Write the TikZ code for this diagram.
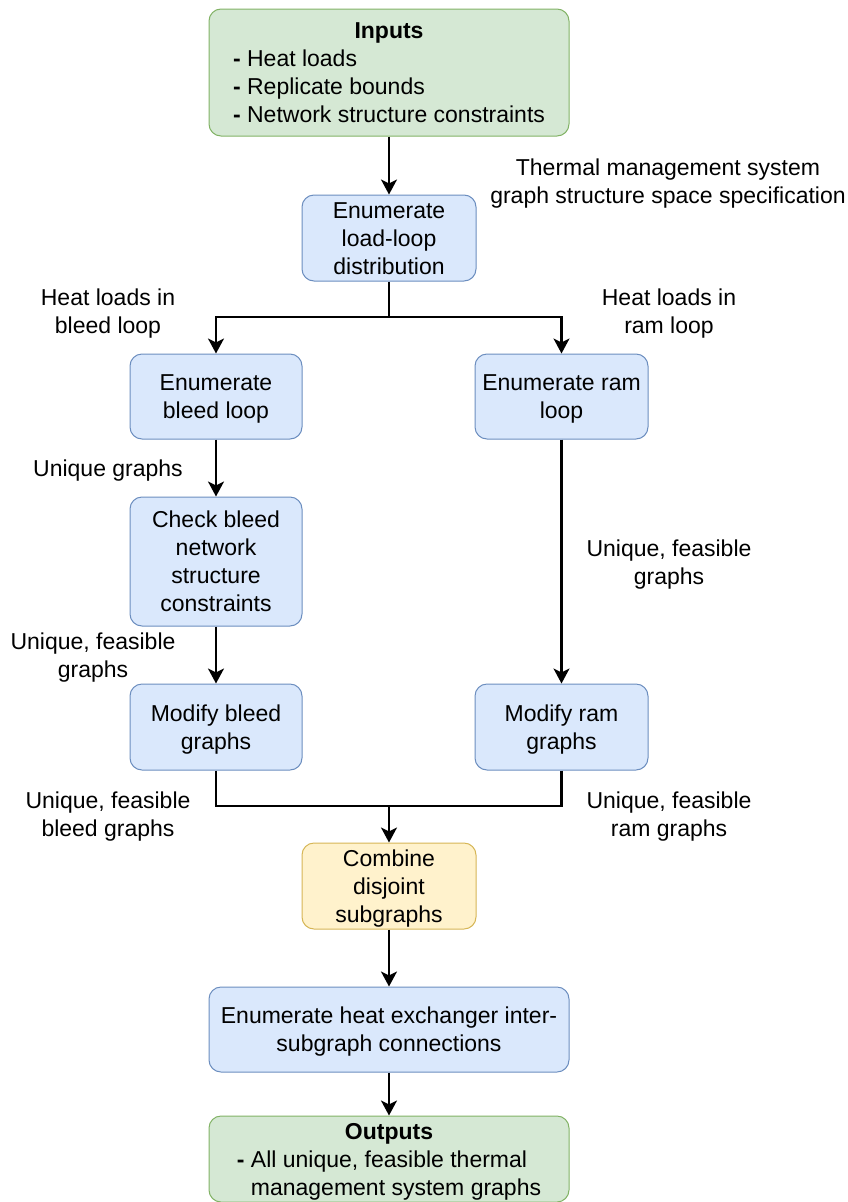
\documentclass[tikz,border=0pt]{standalone}
\usepackage{fontspec}
\setmainfont{Liberation Sans}
\usetikzlibrary{arrows.meta}
\definecolor{gfill}{HTML}{D5E8D4}\definecolor{gline}{HTML}{82B366}
\definecolor{bfill}{HTML}{DAE8FC}\definecolor{bline}{HTML}{6C8EBF}
\definecolor{yfill}{HTML}{FFF2CC}\definecolor{yline}{HTML}{D6B656}
% box text: centred (or left) lines, set slightly low inside the box
\newcommand{\boxtext}[1]{\raisebox{-2.5pt}[\height][\depth]{\begin{tabular}{@{}c@{}}#1\end{tabular}}}
\newcommand{\boxlist}[1]{\raisebox{-2.5pt}[\height][\depth]{\begin{tabular}{@{}l@{}}#1\end{tabular}}}
\begin{document}
\begin{tikzpicture}[x=1pt,y=-1pt,
  every node/.style={font=\fontsize{23}{28}\selectfont, inner sep=0pt, align=center},
  boxbase/.style={rounded corners=12pt, line width=1pt},
  greenbox/.style={boxbase, draw=gline, fill=gfill},
  bluebox/.style={boxbase, draw=bline, fill=bfill},
  yellowbox/.style={boxbase, draw=yline, fill=yfill},
  wire/.style={line width=2.3pt},
  arr/.style={wire, -{Stealth[length=15pt,width=16pt,inset=4pt]}}]
\useasboundingbox (0,0) rectangle (848,1202);

% process boxes
\node[greenbox, minimum width=360pt, minimum height=127pt] (in) at (389,72.5)
  {\boxlist{\multicolumn{1}{c}{\textbf{Inputs}}\\
   \textbf{-} Heat loads\\ \textbf{-} Replicate bounds\\ \textbf{-} Network structure constraints}};
\node[bluebox, minimum width=174pt, minimum height=86pt] (load) at (389,238)
  {\boxtext{Enumerate\\load-loop\\distribution}};
\node[bluebox, minimum width=172pt, minimum height=85pt] (bleed) at (216,396.5)
  {\boxtext{Enumerate\\bleed loop}};
\node[bluebox, minimum width=173pt, minimum height=85pt] (ram) at (561.5,396.5)
  {\boxtext{Enumerate ram\\loop}};
\node[bluebox, minimum width=172pt, minimum height=129pt] (check) at (216,561.5)
  {\boxtext{Check bleed\\network\\structure\\constraints}};
\node[bluebox, minimum width=172pt, minimum height=86pt] (modb) at (216,727)
  {\boxtext{Modify bleed\\graphs}};
\node[bluebox, minimum width=173pt, minimum height=86pt] (modr) at (561.5,727)
  {\boxtext{Modify ram\\graphs}};
\node[yellowbox, minimum width=174pt, minimum height=86pt] (comb) at (389,886)
  {\boxtext{Combine\\disjoint\\subgraphs}};
\node[bluebox, minimum width=360pt, minimum height=85pt] (hx) at (389,1029.5)
  {\boxtext{Enumerate heat exchanger inter-\\subgraph connections}};
\node[greenbox, minimum width=360pt, minimum height=86pt] (out) at (389,1159)
  {\boxlist{\multicolumn{1}{c}{\textbf{Outputs}}\\
   \textbf{-} All unique, feasible thermal\\ \phantom{\textbf{-} }management system graphs}};

% junction points
\coordinate (split) at (389,317);
\coordinate (merge) at (389,806);

% connectors
\draw[arr] (in.south) -- (load.north);
\draw[wire] (load.south) -- (split);
\draw[arr] (split) -| (bleed.north);
\draw[arr] (split) -| (ram.north);
\draw[arr] (bleed.south) -- (check.north);
\draw[arr] (check.south) -- (modb.north);
\draw[arr] (ram.south) -- (modr.north);
\draw[wire] (modb.south) |- (merge);
\draw[wire] (modr.south) |- (merge);
\draw[arr] (merge) -- (comb.north);
\draw[arr] (comb.south) -- (hx.north);
\draw[arr] (hx.south) -- (out.north);

% edge labels
\node (spec) at (668,183.5) {Thermal management system\\graph structure space specification};
\node (lblA) at (108,313.5) {Heat loads in\\bleed loop};
\node (lblB) at (669,313.5) {Heat loads in\\ram loop};
\node (lblC) at (108,470.5) {Unique graphs};
\node (lblD) at (93,657.5) {Unique, feasible\\graphs};
\node (lblE) at (669,564.5) {Unique, feasible\\graphs};
\node (lblF) at (108,816.5) {Unique, feasible\\bleed graphs};
\node (lblG) at (669,816.5) {Unique, feasible\\ram graphs};
\end{tikzpicture}
\end{document}
